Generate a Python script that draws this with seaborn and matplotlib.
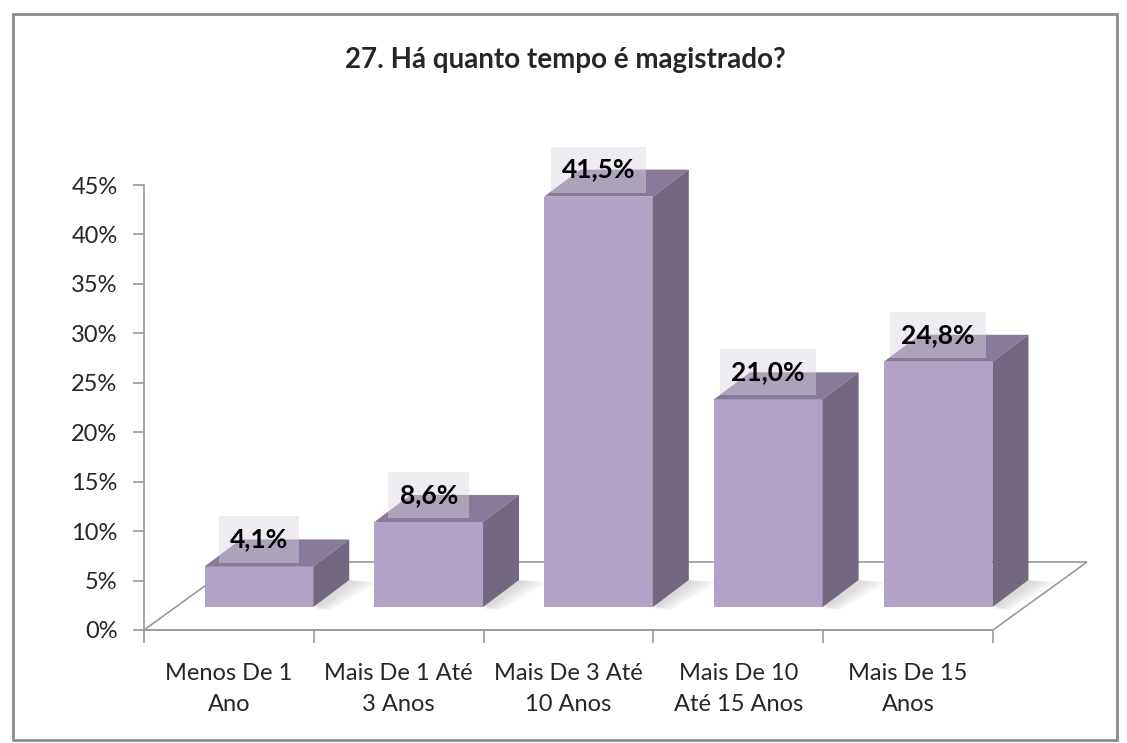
import numpy as np
import pandas as pd
import matplotlib
matplotlib.use("Agg")
import matplotlib.pyplot as plt
from matplotlib.patches import Polygon, Rectangle
import seaborn as sns

categories = ["Menos De 1\nAno", "Mais De 1 Até\n3 Anos", "Mais De 3 Até\n10 Anos",
              "Mais De 10\nAté 15 Anos", "Mais De 15\nAnos"]
values = [4.1, 8.6, 41.5, 21.0, 24.8]
labels = ["4,1%", "8,6%", "41,5%", "21,0%", "24,8%"]
yticks = [0, 5, 10, 15, 20, 25, 30, 35, 40, 45]
title = "27. Há quanto tempo é magistrado?"

front_col = "#B2A2C8"
top_col = "#877A9A"
side_col = "#746780"
edge_gray = "#9a9a9a"

sns.set_theme(style="white")
plt.rcParams["font.family"] = ["Lato", "DejaVu Sans"]

W, H = 1127, 743
fig = plt.figure(figsize=(W / 100, H / 100), dpi=100)
fig.patch.set_facecolor("white")

# chart frame
fig.add_artist(Rectangle((13 / W, 3 / H), 1104 / W, 726 / H, transform=fig.transFigure,
                         fill=False, edgecolor="#8c8c8c", linewidth=2))

# plot area in pixels: x 144..993, y 185..630 (top-down)
L, R, T, B = 144, 993, 185, 630
ax = fig.add_axes([L / W, (H - B) / H, (R - L) / W, (B - T) / H])
ax.set_xlim(-0.5, 4.5)
ax.set_ylim(0, 45)
ax.set_facecolor("none")
for s in ["top", "right"]:
    ax.spines[s].set_visible(False)
for s in ["left", "bottom"]:
    ax.spines[s].set_color(edge_gray)
    ax.spines[s].set_linewidth(1.2)
ax.set_yticks(yticks)
ax.set_yticklabels([f"{t}%" for t in yticks], fontsize=17)
ax.set_xticks(np.arange(-0.5, 5, 1))
ax.set_xticklabels([])
ax.set_xticks(range(len(categories)), minor=True)
ax.set_xticklabels(categories, minor=True, fontsize=17, linespacing=1.55)
ax.tick_params(axis="y", which="major", left=True, length=8, width=1.2, color=edge_gray, pad=11)
ax.tick_params(axis="x", which="major", bottom=True, length=9, width=1.2, color=edge_gray)
ax.tick_params(axis="x", which="minor", bottom=False, length=0, pad=24)

# floor (parallelogram)
fdx, fdy = 94, 68
to_data = ax.transData.inverted()
p_l = ax.transData.transform((-0.5, 0))
p_r = ax.transData.transform((4.5, 0))
fl = to_data.transform([p_l, p_r, p_r + np.array([fdx, fdy]), p_l + np.array([fdx, fdy])])
ax.add_patch(Polygon(fl, closed=True, facecolor="white", edgecolor=edge_gray, linewidth=1.2,
                     clip_on=False, zorder=1))

# bars axes shifted into the floor
bdx, bdy = 30, 23
axb = fig.add_axes([(L + bdx) / W, (H - B + bdy) / H, (R - L) / W, (B - T) / H])
axb.set_facecolor("none")
df = pd.DataFrame({"cat": categories, "val": values})
sns.barplot(data=df, x="cat", y="val", color=front_col, saturation=1, width=0.64,
            ax=axb, edgecolor="none", linewidth=0)
axb.set_xlim(-0.5, 4.5)
axb.set_ylim(0, 45)
axb.axis("off")

ddx, ddy = 36, 27
inv_b = axb.transData.inverted()
sh = np.array([ddx, ddy])
for bar, lab in zip(axb.patches, labels):
    x0 = bar.get_x()
    x1 = x0 + bar.get_width()
    top = bar.get_height()
    p10 = axb.transData.transform((x1, 0))
    p0t = axb.transData.transform((x0, top))
    p1t = axb.transData.transform((x1, top))
    # soft floor shadow
    for k in range(6):
        g = 4 + k * 5
        shadow = inv_b.transform([p10 + np.array([0, 2]), p10 + sh, p10 + sh + np.array([g, -2]),
                                  p10 + np.array([g * 0.6, -3])])
        axb.add_patch(Polygon(shadow, closed=True, facecolor="#b0b0b0", edgecolor="none", alpha=0.09,
                              clip_on=False, zorder=0.5))
    topf = inv_b.transform([p0t, p1t, p1t + sh, p0t + sh])
    side = inv_b.transform([p10, p1t, p1t + sh, p10 + sh])
    axb.add_patch(Polygon(topf, closed=True, facecolor=top_col, edgecolor="none", clip_on=False, zorder=3))
    axb.add_patch(Polygon(side, closed=True, facecolor=side_col, edgecolor="none", clip_on=False, zorder=3))
    axb.annotate(lab, ((x0 + x1) / 2, top), xytext=(0, 27), textcoords="offset pixels",
                 ha="center", va="center", fontsize=19, fontweight="bold", color="black", zorder=5,
                 bbox=dict(boxstyle="square,pad=0.42", facecolor="#DAD4E2", edgecolor="none", alpha=0.45))

fig.text(565 / W, 1 - 60 / H, title, ha="center", va="center", fontsize=20, fontweight="bold")

fig.savefig("out.png", dpi=100)
